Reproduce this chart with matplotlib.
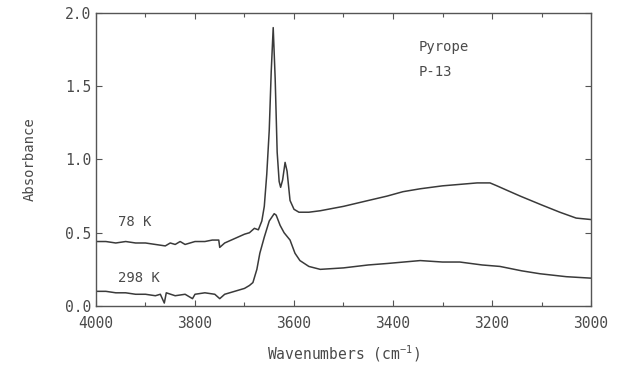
import matplotlib
matplotlib.use('Agg')
import matplotlib.pyplot as plt
from matplotlib.ticker import MultipleLocator

# readings from the spectrum (wavenumber, absorbance)
wn_78 = [4000, 3980, 3960, 3940, 3920, 3900, 3880, 3860, 3850, 3840, 3830, 3820,
         3800, 3780, 3765, 3752, 3750, 3740, 3720, 3700, 3690, 3680, 3672, 3665,
         3660, 3655, 3650, 3646, 3642, 3638, 3634, 3630, 3627, 3623, 3618, 3614,
         3608, 3600, 3590, 3570, 3547, 3500, 3450, 3412, 3380, 3345, 3300, 3265,
         3230, 3204, 3190, 3170, 3143, 3100, 3063, 3030, 3000]
abs_78 = [0.44, 0.44, 0.43, 0.44, 0.43, 0.43, 0.42, 0.41, 0.43, 0.42, 0.44, 0.42,
          0.44, 0.44, 0.45, 0.45, 0.40, 0.43, 0.46, 0.49, 0.50, 0.53, 0.52, 0.58,
          0.68, 0.90, 1.20, 1.60, 1.90, 1.55, 1.05, 0.85, 0.81, 0.86, 0.98, 0.92,
          0.72, 0.66, 0.64, 0.64, 0.65, 0.68, 0.72, 0.75, 0.78, 0.80, 0.82, 0.83,
          0.84, 0.84, 0.82, 0.79, 0.75, 0.69, 0.64, 0.60, 0.59]

wn_298 = [4000, 3980, 3960, 3940, 3920, 3900, 3880, 3870, 3862, 3858, 3840, 3820,
          3805, 3800, 3780, 3760, 3750, 3740, 3720, 3700, 3690, 3683, 3675, 3669,
          3660, 3650, 3640, 3636, 3628, 3620, 3608, 3598, 3588, 3570, 3547, 3500,
          3450, 3412, 3345, 3300, 3265, 3220, 3184, 3140, 3103, 3050, 3000]
abs_298 = [0.10, 0.10, 0.09, 0.09, 0.08, 0.08, 0.07, 0.08, 0.02, 0.09, 0.07, 0.08,
           0.05, 0.08, 0.09, 0.08, 0.05, 0.08, 0.10, 0.12, 0.14, 0.16, 0.25, 0.36,
           0.47, 0.58, 0.63, 0.62, 0.55, 0.50, 0.45, 0.36, 0.31, 0.27, 0.25, 0.26,
           0.28, 0.29, 0.31, 0.30, 0.30, 0.28, 0.27, 0.24, 0.22, 0.20, 0.19]

plt.rcParams['font.family'] = 'DejaVu Sans Mono'
plt.rcParams['mathtext.default'] = 'regular'
ink = '#3a3a3a'
txt = '#4a4a4a'

fig = plt.figure(figsize=(6.29, 3.70), dpi=100)
ax = fig.add_axes([0.1526, 0.173, 0.787, 0.792])

ax.plot(wn_78, abs_78, color=ink, lw=1.1)
ax.plot(wn_298, abs_298, color=ink, lw=1.1)

ax.set_xlim(4000, 3000)
ax.set_ylim(0, 2.0)
ax.xaxis.set_major_locator(MultipleLocator(200))
ax.xaxis.set_minor_locator(MultipleLocator(100))
ax.yaxis.set_major_locator(MultipleLocator(0.5))
ax.yaxis.set_major_formatter(plt.FormatStrFormatter('%.1f'))
ax.tick_params(which='both', direction='in', top=True, right=True, color='#555555',
               labelcolor=txt, labelsize=10.5, width=0.8)
ax.tick_params(which='major', length=4)
ax.tick_params(which='minor', length=3)
ax.tick_params(axis='x', pad=7)
for s in ax.spines.values():
    s.set_color('#555555')
    s.set_linewidth(1.0)

ax.set_xlabel('Wavenumbers (cm$^{-1}$)', color=txt, fontsize=10.5, labelpad=9)
ax.set_ylabel('Absorbance', color=txt, fontsize=10, labelpad=20)

ax.text(3956, 0.57, '78 K', color=txt, fontsize=10, va='center')
ax.text(3956, 0.19, '298 K', color=txt, fontsize=10, va='center')
ax.text(3349, 1.77, 'Pyrope', color=txt, fontsize=10, va='center')
ax.text(3349, 1.60, 'P-13', color=txt, fontsize=10, va='center')

plt.savefig('out.png', dpi=100)
